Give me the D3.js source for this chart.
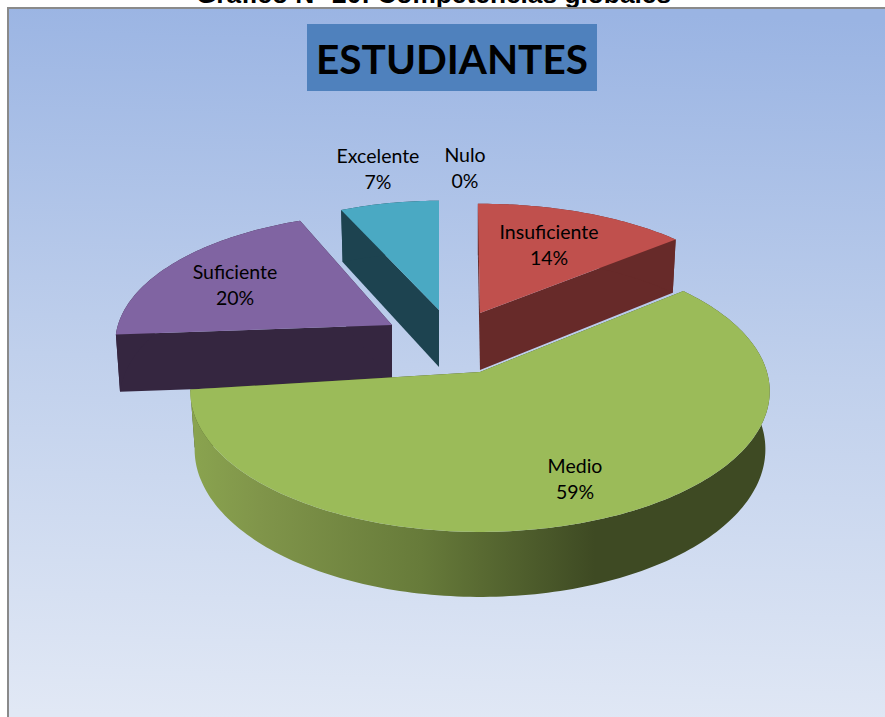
<!DOCTYPE html>
<html>
<head>
<meta charset="utf-8">
<script src="https://cdn.jsdelivr.net/npm/d3@7"></script>
<style>
  html, body { margin: 0; padding: 0; background: #fff; overflow: hidden; }
  svg { display: block; }
</style>
</head>
<body>
<svg id="chart" width="885" height="717"></svg>
<script>
// values, clockwise from 12 o'clock
let categories = ["Nulo", "Insuficiente", "Medio", "Suficiente", "Excelente"];
let percents   = [0, 14, 59, 20, 7];

// slice styling and layout (exploded slices were moved by hand in the original)
let colourTop  = ["#c0504d", "#c0504d", "#9bbb59", "#8064a2", "#4aa9c3"];
let colourSide = ["#672a29", "#672a29", "#3e4a23", "#352640", "#1d4350"];
let shiftX     = [0, 0, 0, -88, -41];
let shiftY     = [0, -59, 0, -47, -62];
let scaleX     = [1, 0.97, 1, 0.955, 0.9];
let scaleY     = [1, 0.9, 1, 0.92, 0.9];
let turnDeg    = [0, -0.5, 0, 3, 0];
let labelX     = [465, 549, 575, 235, 378];
let labelY     = [162, 239, 473, 279, 163];
let drawOrder  = [4, 3, 1, 0, 2];

const width = 885, height = 717;
const cx = 480, cy = 372;
const rx = 287, ry = 138, persp = 0.137;
const depth = 57, baseX = 0.985, baseY = 1.05;

let svg = d3.select("#chart");
let defs = svg.append("defs");

let bg = defs.append("linearGradient").attr("id", "bg")
  .attr("x1", 0.52).attr("y1", 0).attr("x2", 0.48).attr("y2", 1);
bg.append("stop").attr("offset", 0).attr("stop-color", "#9ab4e3");
bg.append("stop").attr("offset", 0.5).attr("stop-color", "#c0d0ec");
bg.append("stop").attr("offset", 1).attr("stop-color", "#e1e8f5");

let rim = defs.append("linearGradient").attr("id", "rimMedio")
  .attr("gradientUnits", "userSpaceOnUse")
  .attr("x1", 190).attr("y1", 0).attr("x2", 768).attr("y2", 0);
rim.append("stop").attr("offset", 0).attr("stop-color", "#8aa44f");
rim.append("stop").attr("offset", 0.12).attr("stop-color", "#80954a");
rim.append("stop").attr("offset", 0.4).attr("stop-color", "#677b3a");
rim.append("stop").attr("offset", 0.7).attr("stop-color", "#3e4a23");
rim.append("stop").attr("offset", 1).attr("stop-color", "#3e4a23");

// caption of the page, cut off by the top of the crop
svg.append("text")
  .attr("x", 433.5).attr("y", 3)
  .attr("text-anchor", "middle")
  .attr("font-family", "'Liberation Sans', Arial, sans-serif")
  .attr("font-weight", "bold")
  .attr("font-size", 26.3)
  .attr("fill", "#000")
  .text("Gráfico N° 20: Competencias globales");

// chart area
svg.append("rect")
  .attr("x", 8).attr("y", 8)
  .attr("width", width).attr("height", height)
  .attr("fill", "url(#bg)")
  .attr("stroke", "#8a8a8a")
  .attr("stroke-width", 2);

// title box
svg.append("rect")
  .attr("x", 307).attr("y", 24)
  .attr("width", 290).attr("height", 67)
  .attr("fill", "#4f81bd");
svg.append("text")
  .attr("x", 452).attr("y", 74)
  .attr("text-anchor", "middle")
  .attr("font-family", "Lato, sans-serif")
  .attr("font-weight", "bold")
  .attr("font-size", 40.5)
  .attr("fill", "#000")
  .text("ESTUDIANTES");

// pie in perspective: angle 0 is the back of the disc
function project(a) {
  let u = Math.sin(a), v = -Math.cos(a);
  let w = 1 - persp * v;
  return [rx * u / w, ry * v / w];
}

let pie = d3.pie().sort(null).startAngle(0).endAngle(2 * Math.PI);
let arcs = pie(percents);
let line = d3.line();

function arcPoints(d, turn) {
  let n = Math.max(2, Math.ceil((d.endAngle - d.startAngle) / 0.02));
  return d3.range(n + 1).map(i => turn + d.startAngle + (d.endAngle - d.startAngle) * i / n);
}

drawOrder.forEach(i => {
  let d = arcs[i];
  if (d.value === 0) return;
  let x0 = cx + shiftX[i], y0 = cy + shiftY[i];
  let top = p => [x0 + p[0] * scaleX[i], y0 + p[1] * scaleY[i]];
  let bot = p => [x0 + p[0] * scaleX[i] * baseX, y0 + depth + p[1] * scaleY[i] * baseY];
  let outer = arcPoints(d, turnDeg[i] * Math.PI / 180).map(project);
  let g = svg.append("g").attr("class", "slice");

  // cut faces
  [outer[0], outer[outer.length - 1]].forEach(p => {
    g.append("path")
      .attr("d", line([top([0, 0]), top(p), bot(p), bot([0, 0])]) + "Z")
      .attr("fill", colourSide[i]);
  });

  // outer wall
  g.append("path")
    .attr("d", line(outer.map(top).concat(outer.map(bot).reverse())) + "Z")
    .attr("fill", categories[i] === "Medio" ? "url(#rimMedio)" : colourSide[i]);

  // top face
  g.append("path")
    .attr("d", line([top([0, 0])].concat(outer.map(top))) + "Z")
    .attr("fill", colourTop[i]);
});

// data labels
let labels = svg.append("g")
  .attr("font-family", "Lato, sans-serif")
  .attr("font-size", 19.5)
  .attr("fill", "#000")
  .attr("text-anchor", "middle");

categories.forEach((c, i) => {
  labels.append("text").attr("x", labelX[i]).attr("y", labelY[i]).text(c);
  labels.append("text").attr("x", labelX[i]).attr("y", labelY[i] + 26).text(percents[i] + "%");
});
</script>
</body>
</html>
